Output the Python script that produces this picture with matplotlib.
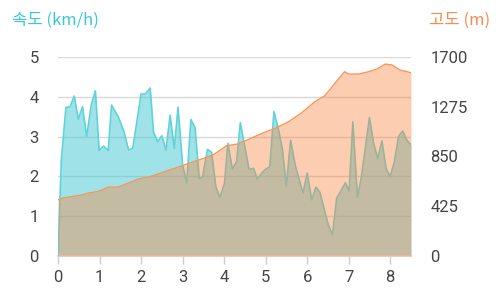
import matplotlib
matplotlib.use("Agg")
import matplotlib.pyplot as plt

# ---- data ----
speed_km = [0, 0.08, 0.19, 0.29, 0.39, 0.49, 0.59, 0.69, 0.80, 0.90,
            0.99, 1.10, 1.21, 1.29, 1.45, 1.59, 1.70, 1.80, 2.00, 2.10,
            2.22, 2.30, 2.40, 2.50, 2.60, 2.70, 2.80, 2.89, 3.00, 3.10,
            3.20, 3.30, 3.40, 3.48, 3.60, 3.70, 3.80, 3.90, 4.01, 4.09,
            4.20, 4.30, 4.39, 4.49, 4.60, 4.71, 4.80, 4.91, 5.00, 5.10,
            5.20, 5.31, 5.40, 5.50, 5.60, 5.71, 5.81, 5.90, 6.00, 6.11,
            6.21, 6.31, 6.43, 6.51, 6.61, 6.71, 6.81, 6.92, 7.01, 7.10,
            7.21, 7.30, 7.40, 7.50, 7.60, 7.70, 7.80, 7.90, 8.00, 8.10,
            8.20, 8.30, 8.40, 8.50]
speed = [0, 2.4, 3.73, 3.75, 4.02, 3.44, 3.75, 3.0, 3.79, 4.15,
         2.65, 2.76, 2.65, 3.79, 3.5, 3.12, 2.66, 2.7, 4.07, 4.07,
         4.22, 3.12, 2.87, 3.02, 2.66, 3.54, 2.7, 3.74, 2.29, 1.83,
         3.43, 3.22, 1.95, 1.98, 2.68, 2.6, 1.74, 1.47, 1.83, 2.83,
         2.18, 2.37, 3.35, 2.79, 2.18, 2.2, 1.93, 2.09, 2.18, 2.24,
         3.63, 3.17, 2.7, 1.76, 2.91, 2.29, 1.91, 1.58, 2.08, 1.41,
         1.73, 1.59, 1.09, 0.78, 0.53, 1.45, 1.63, 1.84, 1.63, 3.37,
         1.47, 1.95, 2.71, 3.48, 2.83, 2.45, 2.89, 2.2, 1.99, 2.37,
         3.0, 3.14, 2.91, 2.79]

elev_km = [0, 0.1, 0.33, 0.57, 0.73, 0.97, 1.21, 1.45, 1.69, 1.93,
           2.22, 2.58, 3.06, 3.38, 3.74, 4.06, 4.31, 4.59, 4.91, 5.23,
           5.55, 5.87, 6.19, 6.43, 6.67, 6.9, 7.0, 7.24, 7.48, 7.68,
           7.88, 8.04, 8.24, 8.44, 8.5]
elev = [479, 493, 507, 520, 537, 551, 588, 588, 622, 656,
        677, 721, 779, 819, 864, 942, 955, 996, 1047, 1091,
        1146, 1224, 1319, 1370, 1476, 1574, 1554, 1554, 1574, 1598,
        1639, 1632, 1588, 1571, 1564]

x_ticks = [0, 1, 2, 3, 4, 5, 6, 7, 8]
speed_ticks = [0, 1, 2, 3, 4, 5]
elev_ticks = [0, 425, 850, 1275, 1700]

left_title = "속도 (km/h)"
right_title = "고도 (m)"

# ---- styling ----
plt.rcParams['font.family'] = ['Roboto', 'Noto Sans CJK KR', 'DejaVu Sans']
cyan_line = '#5fd3da'
cyan_fill = (65/255, 200/255, 210/255)
orange_line = '#f5965a'
orange_fill = (250/255, 130/255, 60/255)
label_col = '#444444'
grid_col = '#d8d8d8'

fig = plt.figure(figsize=(5, 3), dpi=100)
ax = fig.add_axes([0.116, 0.147, 0.706, 0.663])
ax2 = ax.twinx()

ax.fill_between(speed_km, speed, 0, color=cyan_fill, alpha=0.5, lw=0, zorder=2)
ax.plot(speed_km, speed, color=cyan_line, lw=1.2, zorder=3)

ax2.fill_between(elev_km, elev, 0, color=orange_fill, alpha=0.4, lw=0, zorder=2)
ax2.plot(elev_km, elev, color=orange_line, lw=1.0, zorder=3)

ax.set_xlim(0, 8.5)
ax.set_ylim(0, 5)
ax2.set_ylim(0, 1700)

ax.set_xticks(x_ticks)
ax.set_yticks(speed_ticks)
ax2.set_yticks(elev_ticks)
ax.set_xticklabels([str(t) for t in x_ticks])
ax.set_yticklabels([str(t) for t in speed_ticks])
ax2.set_yticklabels([str(t) for t in elev_ticks])

ax.yaxis.grid(True, color=grid_col, lw=1.0, zorder=1)
ax.set_axisbelow(True)

for a in (ax, ax2):
    for s in ('top', 'left', 'right', 'bottom'):
        a.spines[s].set_visible(False)
ax.spines['bottom'].set_visible(True)
ax.spines['bottom'].set_color('#dddddd')
ax.spines['bottom'].set_linewidth(1.5)

ax.tick_params(axis='x', length=6, width=1, color='#cccccc', pad=4,
               labelsize=12, labelcolor=label_col)
ax.tick_params(axis='y', length=0, pad=14, labelsize=12, labelcolor=label_col)
ax2.tick_params(axis='y', length=0, pad=14, labelsize=12, labelcolor=label_col)

fig.text(0.024, 0.932, left_title, color='#3cc8d2', fontsize=12,
         ha='left', va='center', family=['Noto Sans CJK KR', 'DejaVu Sans'])
fig.text(0.98, 0.932, right_title, color='#f58c50', fontsize=12,
         ha='right', va='center', family=['Noto Sans CJK KR', 'DejaVu Sans'])

fig.savefig('out.png', dpi=100)
